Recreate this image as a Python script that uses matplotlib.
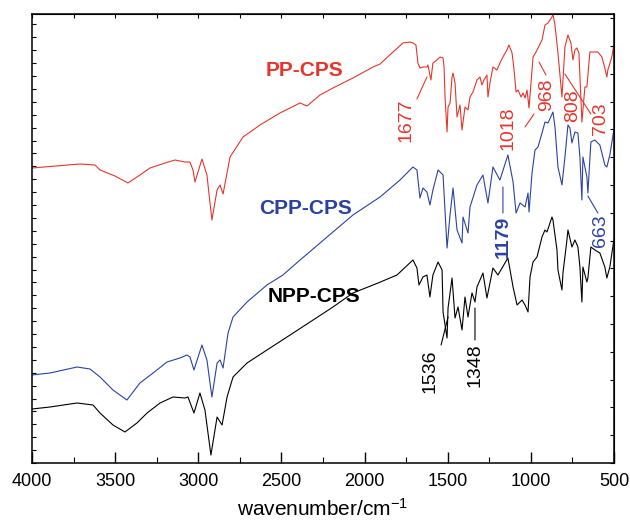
import numpy as np
import matplotlib
matplotlib.use("Agg")
import matplotlib.pyplot as plt

plt.rcParams['font.family'] = ['Liberation Sans', 'DejaVu Sans']
plt.rcParams['mathtext.fontset'] = 'custom'
plt.rcParams['mathtext.rm'] = 'Liberation Sans'
plt.rcParams['mathtext.it'] = 'Liberation Sans:italic'

# FTIR spectra (wavenumber in cm-1, transmittance in a.u.)
pp_wn = [4000, 3711, 3621, 3591, 3501, 3423, 3351, 3290, 3200, 3140, 3080, 3050, 3032, 3020,
         2978, 2948, 2918, 2887, 2869, 2851, 2809, 2731, 2629, 2509, 2388, 2346, 2268, 2190,
         2070, 1949, 1907, 1829, 1769, 1727, 1709, 1691, 1679, 1667, 1649, 1625, 1619, 1601,
         1589, 1565, 1546, 1528, 1522, 1516, 1504, 1498, 1486, 1474, 1468, 1456, 1444, 1438,
         1426, 1414, 1396, 1378, 1366, 1348, 1324, 1306, 1294, 1282, 1264, 1258, 1246, 1228,
         1204, 1186, 1168, 1144, 1132, 1113, 1101, 1089, 1077, 1059, 1047, 1035, 1023, 1011,
         993, 987, 969, 957, 933, 915, 897, 873, 867, 855, 837, 813, 795, 777, 759, 747, 735,
         723, 711, 693, 675, 663, 645, 597, 573, 555, 543, 537, 513, 501]
pp_t = [295, 299, 298, 293, 287, 280, 288, 295, 300, 303, 301, 301, 293, 281,
        304, 288, 243, 273, 278, 269, 306, 326, 338, 350, 360, 357, 368, 375,
        385, 396, 399, 411, 420, 421, 420, 418, 400, 395, 396, 396, 398, 383,
        400, 403, 406, 405, 396, 366, 331, 356, 360, 386, 390, 380, 346, 350,
        358, 333, 356, 353, 366, 371, 383, 386, 378, 383, 388, 366, 380, 396,
        393, 400, 406, 413, 418, 410, 393, 371, 373, 366, 370, 365, 373, 355,
        393, 406, 411, 415, 423, 438, 440, 446, 449, 438, 410, 366, 416, 428, 420, 403, 413,
        415, 410, 341, 376, 376, 411, 411, 406, 395, 386, 393, 406, 418]

cpp_wn = [4000, 3892, 3729, 3651, 3591, 3513, 3429, 3351, 3272, 3188, 3110, 3068, 3050, 3026,
          2978, 2948, 2918, 2887, 2869, 2851, 2821, 2791, 2707, 2587, 2491, 2388, 2310, 2190,
          2070, 1907, 1787, 1709, 1685, 1667, 1649, 1625, 1607, 1589, 1558, 1528, 1504, 1486,
          1468, 1444, 1414, 1408, 1378, 1366, 1324, 1288, 1258, 1228, 1186, 1138, 1107, 1089,
          1065, 1035, 1017, 1011, 993, 975, 957, 933, 915, 897, 867, 855, 837, 813, 795, 777,
          765, 753, 735, 717, 705, 693, 687, 663, 657, 639, 615, 585, 555, 543, 525, 501]
cpp_t = [88, 90, 96, 94, 86, 73, 63, 80, 90, 101, 105, 108, 106, 93,
         118, 103, 66, 100, 103, 95, 130, 146, 161, 178, 188, 203, 214, 231,
         248, 266, 283, 296, 293, 265, 275, 271, 258, 273, 293, 288, 215, 248,
         275, 233, 220, 246, 230, 256, 278, 288, 260, 296, 283, 308, 281, 250,
         260, 256, 270, 251, 290, 313, 316, 330, 341, 340, 351, 336, 296, 278, 306, 338,
         335, 320, 331, 330, 306, 263, 306, 286, 270, 321, 323, 318, 298, 296, 308, 333]

npp_wn = [4000, 3892, 3729, 3633, 3591, 3513, 3441, 3369, 3308, 3230, 3152, 3080, 3062, 3026,
          2990, 2960, 2924, 2887, 2857, 2827, 2791, 2707, 2587, 2448, 2328, 2190, 2070, 1919,
          1805, 1709, 1685, 1673, 1649, 1625, 1607, 1589, 1558, 1534, 1528, 1504, 1498, 1474,
          1456, 1438, 1414, 1396, 1378, 1354, 1336, 1324, 1288, 1264, 1228, 1198, 1138, 1107,
          1083, 1053, 1035, 1017, 1005, 987, 963, 933, 915, 903, 873, 867, 843, 837, 813, 807,
          783, 777, 753, 735, 717, 705, 693, 687, 663, 657, 639, 615, 585, 555, 543, 525, 501]
npp_t = [54, 56, 60, 58, 50, 38, 31, 40, 50, 60, 66, 65, 66, 50,
         70, 53, 8, 46, 38, 66, 86, 100, 113, 128, 141, 156, 170, 180,
         188, 203, 195, 178, 186, 188, 166, 188, 201, 193, 151, 125, 155, 185,
         145, 156, 133, 166, 146, 170, 161, 176, 190, 165, 195, 188, 205, 176,
         158, 163, 158, 151, 186, 201, 206, 226, 233, 231, 246, 243, 213, 193, 173, 190,
         223, 233, 216, 223, 216, 196, 161, 196, 181, 185, 216, 213, 210, 196, 185, 196, 223]

red = '#e5362c'
blue = '#2c42a2'

fig = plt.figure(figsize=(6.3, 5.22), dpi=100)
ax = fig.add_axes([32 / 630, 59 / 522, 582 / 630, 449 / 522])

ax.plot(pp_wn, pp_t, color=red, lw=0.8)
ax.plot(cpp_wn, cpp_t, color=blue, lw=0.8)
ax.plot(npp_wn, npp_t, color='black', lw=0.8)

ax.set_xlim(4000, 500)
ax.set_ylim(0, 449)

# sample names
ax.text(2364, 392, 'PP-CPS', color=red, fontsize=15, fontweight='bold', ha='center', va='center')
ax.text(2352, 255, 'CPP-CPS', color=blue, fontsize=15, fontweight='bold', ha='center', va='center')
ax.text(2304, 167, 'NPP-CPS', color='black', fontsize=15, fontweight='bold', ha='center', va='center')

# peak labels: (text, text position, leader start, leader end, colour, weight)
peaks = [
    ('1677', (1751, 343), (1685, 364), (1625, 386), red, 'normal'),
    ('1018', (1138, 335), (1035, 336), (981, 349), red, 'normal'),
    ('968', (903, 368), (909, 388), (951, 401), red, 'normal'),
    ('808', (747, 357), None, None, red, 'normal'),
    ('703', (584, 344), (639, 349), (795, 389), red, 'normal'),
    ('1179', (1168, 226), (1168, 250), (1168, 276), blue, 'bold'),
    ('663', (584, 232), (597, 250), (657, 267), blue, 'normal'),
    ('1536', (1607, 92), (1540, 118), (1498, 146), 'black', 'normal'),
    ('1348', (1336, 98), (1336, 123), (1336, 155), 'black', 'normal'),
]
for txt, pos, p0, p1, col, wt in peaks:
    ax.text(pos[0], pos[1], txt, color=col, fontsize=14, fontweight=wt,
            rotation=90, ha='center', va='center')
    if p0 is not None:
        ax.annotate('', xy=p1, xytext=p0,
                    arrowprops=dict(arrowstyle='-', color=col, lw=0.8, shrinkA=0, shrinkB=0))

# axes styling
for s in ax.spines.values():
    s.set_linewidth(1.1)
ax.set_xticks(np.arange(500, 4001, 500))
ax.set_xticks(np.arange(750, 4000, 500), minor=True)
ax.tick_params(axis='x', which='major', direction='in', length=8, width=1, labelsize=13, pad=7)
ax.tick_params(axis='x', which='minor', direction='in', length=4, width=0.8)
ax.set_yticks(np.arange(0, 449, 12.9))
ax.tick_params(axis='y', direction='in', length=3, width=0.8, labelleft=False)

top = ax.secondary_xaxis('top')
top.set_xticks(np.arange(500, 4001, 250))
top.tick_params(direction='in', length=3, width=0.8, labeltop=False)
right = ax.secondary_yaxis('right')
right.set_yticks(np.arange(0, 449, 27.8))
right.tick_params(direction='in', length=3, width=0.8, labelright=False)

ax.set_xlabel('wavenumber/cm$^{-1}$', fontsize=15)
ax.xaxis.set_label_coords(0.5, -0.078)

fig.savefig('out.png', dpi=100)
